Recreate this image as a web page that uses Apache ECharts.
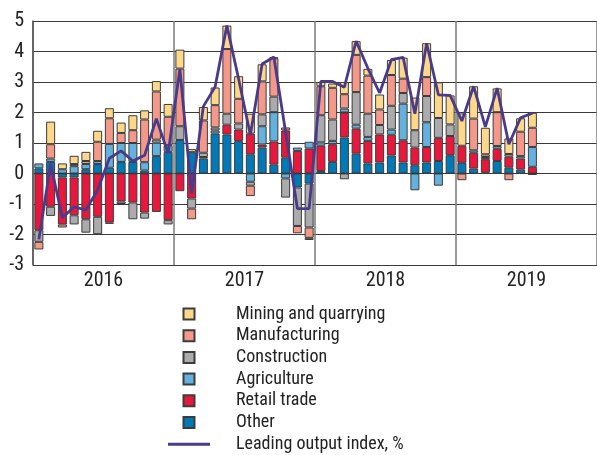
<!DOCTYPE html>
<html><head><meta charset="utf-8">
<script src="https://cdn.jsdelivr.net/npm/echarts@6/dist/echarts.min.js"></script>
<style>html,body{margin:0;padding:0;background:#fff}#c{width:597px;height:455px}</style>
</head><body><div id="c"></div><script>
// Categories: one slot per month, Jan 2016 – Dec 2019 (data through Jul 2019)
const months = [
 '2016-01','2016-02','2016-03','2016-04','2016-05','2016-06','2016-07','2016-08','2016-09','2016-10','2016-11','2016-12',
 '2017-01','2017-02','2017-03','2017-04','2017-05','2017-06','2017-07','2017-08','2017-09','2017-10','2017-11','2017-12',
 '2018-01','2018-02','2018-03','2018-04','2018-05','2018-06','2018-07','2018-08','2018-09','2018-10','2018-11','2018-12',
 '2019-01','2019-02','2019-03','2019-04','2019-05','2019-06','2019-07','2019-08','2019-09','2019-10','2019-11','2019-12'
];
const years = ['2016','2017','2018','2019'];

// Contributions (percentage points)
const other = [0.17,0.38,-0.13,-0.13,0.14,0.31,0.19,0.38,0.38,0.10,0.57,0.71,
  1.10,0.70,0.49,1.31,1.28,1.06,0.63,0.85,0.29,0.52,-0.46,-0.33,
  0.08,0.38,1.18,0.65,0.33,0.36,0.59,0.36,0.27,0.36,0.41,0.60,
  0.35,0.16,0.03,0.41,0.19,0.13,-0.05];
const retail = [-1.86,-1.09,-1.54,-1.24,-1.50,-1.42,-1.61,-0.92,-0.95,-1.28,-1.26,-1.53,
  -0.58,-0.82,0,0,0.32,0.38,0.68,0.10,0.76,0.89,0.74,0.82,
  0.83,0.58,0.82,0.82,0.74,0.92,0.68,0.73,0.58,0.51,0.76,0.63,
  0.56,0.52,0.44,0.40,0.36,0.36,0.22];
const agriculture = [0.16,0.11,0.14,0.24,0.17,0.10,0.78,0.62,0.62,0.27,0.44,0.22,
  0,0,0.05,0.10,0,0,-0.27,0.60,0.96,-0.16,0.11,0.22,
  0.11,0.11,0.13,0.13,0.13,0,0.17,1.20,-0.55,0.81,-0.40,0,
  0,0.08,0.07,0.09,0,0.08,0.65];
const construction = [-0.38,-0.30,0,-0.30,-0.44,-0.57,-0.04,-0.08,-0.55,-0.20,0.10,-0.14,
  0.45,-0.33,0.14,0.10,0.36,0.20,-0.13,0.39,0.51,-0.63,-1.26,-1.44,
  0.89,0.70,-0.19,1.07,0.76,0.31,0.78,0.35,0.57,0.86,0.65,0.38,
  0,0,0,0,0.09,0,0];
const manufacturing = [-0.25,0.47,-0.10,0.07,0.10,0.63,0.84,0.33,0.42,1.40,1.58,0.93,
  1.89,-0.35,1.06,0.73,2.12,0.81,-0.34,1.08,1.26,0.10,-0.24,-0.34,
  0.95,1.04,0.47,1.22,1.25,0.51,1.01,0.47,0,0.62,0,0,
  -0.22,1.04,0.09,1.11,-0.22,0.80,0.63];
const mining = [0,0.74,0.19,0.27,0.30,0.36,0.33,0.34,0.49,0.30,0.34,0.42,
  0.62,0.10,0.44,0.58,0.77,0.74,0.65,0.56,0.02,0,0,-0.07,
  0.14,0.14,0.40,0.45,0.22,0.49,0.49,0.69,1.07,1.11,1.17,0.95,
  1.06,1.06,0.87,0.78,0.51,0.44,0.49];
// Leading output index, %
const leading = [-2.16,0.31,-1.45,-1.09,-1.20,-0.54,0.50,0.74,0.41,0.60,1.80,0.66,
  3.42,-0.65,2.20,2.84,4.85,3.10,1.26,3.59,3.82,1.35,-1.15,-1.15,
  3.02,3.02,2.83,4.34,3.45,2.64,3.73,3.81,1.96,4.27,2.58,2.56,
  1.72,2.86,1.53,2.80,0.96,1.83,1.98];

const FONT = "'Roboto Condensed',Roboto,'DejaVu Sans Condensed',sans-serif";
const STRETCH = 'condensed';
const SQ = 'path://M0,0H10V10H0Z';
const barDefs = [
  ['Other', other, '#0079B6'],
  ['Retail trade', retail, '#E8173B'],
  ['Agriculture', agriculture, '#63B1DC'],
  ['Construction', construction, '#ABABAD'],
  ['Manufacturing', manufacturing, '#F4998A'],
  ['Mining and quarrying', mining, '#FED88A']
];
const series = barDefs.map(([name, vals, color]) => ({
  name, type:'bar', stack:'total', xAxisIndex:1, barWidth:9,
  data: vals.map(v => v === 0 ? null : v),
  itemStyle:{color, borderColor:'#3c3c3c', borderWidth:1},
  emphasis:{disabled:true}
}));
series.push({
  name:'Leading output index, %', type:'line', xAxisIndex:1, data:leading,
  symbol:'none', z:5,
  lineStyle:{color:'#4A3A8A', width:2.8},
  itemStyle:{color:'#4A3A8A'}
});

const chart = echarts.init(document.getElementById('c'));
chart.setOption({
  animation:false,
  grid:{left:33, right:-4, top:21, bottom:190},
  xAxis:[
    {type:'category', data:years, position:'bottom',
     axisLine:{show:false}, axisTick:{show:false},
     axisLabel:{fontFamily:FONT, fontStyle:STRETCH, fontSize:20, color:'#222', margin:6},
     splitLine:{show:true, lineStyle:{color:'#7a7a7a', width:1.5}}},
    {type:'category', data:months, position:'bottom',
     axisLine:{show:false}, axisTick:{show:false}, axisLabel:{show:false}, splitLine:{show:false}}
  ],
  yAxis:{type:'value', min:-3, max:5, interval:1,
    axisLine:{show:true, lineStyle:{color:'#555', width:1.5}}, axisTick:{show:false},
    axisLabel:{fontFamily:FONT, fontStyle:STRETCH, fontSize:20, color:'#222', margin:9},
    splitLine:{lineStyle:{color:'#3a3a3a', width:1}}},
  legend:{
    orient:'vertical', left:168, top:304, height:200, padding:0,
    itemWidth:42, itemHeight:11, itemGap:1.7,
    symbolKeepAspect:true,
    data:[
      {name:'Mining and quarrying', icon:SQ},
      {name:'Manufacturing', icon:SQ},
      {name:'Construction', icon:SQ},
      {name:'Agriculture', icon:SQ},
      {name:'Retail trade', icon:SQ},
      {name:'Other', icon:SQ},
      {name:'Leading output index, %', icon:'path://M0,0H42V3H0Z'}
    ],
    textStyle:{fontFamily:FONT, fontStyle:STRETCH, fontSize:18, color:'#222', lineHeight:20, padding:[0,0,0,21]}
  },
  series
});
</script></body></html>
